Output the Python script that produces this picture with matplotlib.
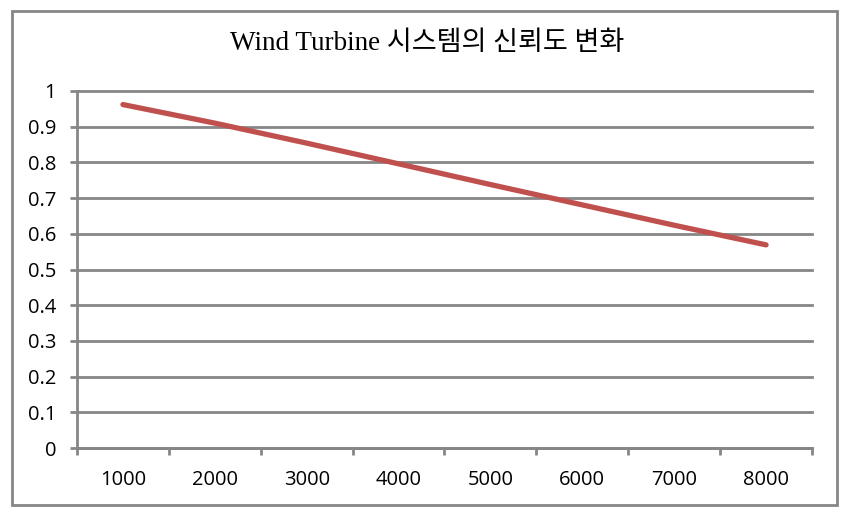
import matplotlib
matplotlib.use("Agg")
import matplotlib.pyplot as plt
from matplotlib.patches import Rectangle

# data
hours = ["1000", "2000", "3000", "4000", "5000", "6000", "7000", "8000"]
reliability = [0.962, 0.910, 0.854, 0.796, 0.738, 0.681, 0.624, 0.569]
y_ticks = [0, 0.1, 0.2, 0.3, 0.4, 0.5, 0.6, 0.7, 0.8, 0.9, 1]
y_labels = ["0", "0.1", "0.2", "0.3", "0.4", "0.5", "0.6", "0.7", "0.8", "0.9", "1"]
title = "Wind Turbine 시스템의 신뢰도 변화"

grey = "#868686"

fig = plt.figure(figsize=(8.54, 5.17), dpi=100)
ax = fig.add_axes([77 / 854, 1 - 448 / 517, (812 - 77) / 854, (448 - 91) / 517])

x = list(range(len(hours)))
ax.plot(x, reliability, color="#C0504D", lw=3.8, solid_capstyle="round", zorder=3)

ax.set_xlim(-0.5, len(hours) - 0.5)
ax.set_ylim(0, 1)

# category labels in the middle, tick marks on the boundaries
ax.set_xticks(x)
ax.set_xticklabels(hours, family="Open Sans", fontsize=14.5)
ax.set_xticks([i - 0.5 for i in range(len(hours) + 1)], minor=True)
ax.tick_params(axis="x", which="major", length=0, pad=16)
ax.tick_params(axis="x", which="minor", length=5, width=2, color=grey, direction="out")

ax.set_yticks(y_ticks)
ax.set_yticklabels(y_labels, family="Open Sans", fontsize=14.5)
ax.tick_params(axis="y", length=5, width=2, color=grey, pad=10)

ax.yaxis.grid(True, color=grey, lw=2)
for gl in ax.get_ygridlines():
    gl.set_clip_on(False)
ax.set_axisbelow(True)
for s in ["top", "right"]:
    ax.spines[s].set_visible(False)
for s in ["left", "bottom"]:
    ax.spines[s].set_color(grey)
    ax.spines[s].set_linewidth(2)

fig.text(0.5, 1 - 43 / 517, title, ha="center", va="center", fontsize=19.5,
         family=["Liberation Serif", "Noto Sans CJK KR"])

# outer chart border
fig.patches.append(Rectangle((12 / 854, 1 - 505 / 517), (837 - 12) / 854, (505 - 11) / 517,
                             transform=fig.transFigure, fill=False, edgecolor=grey, lw=2))

fig.savefig("out.png", dpi=100)
